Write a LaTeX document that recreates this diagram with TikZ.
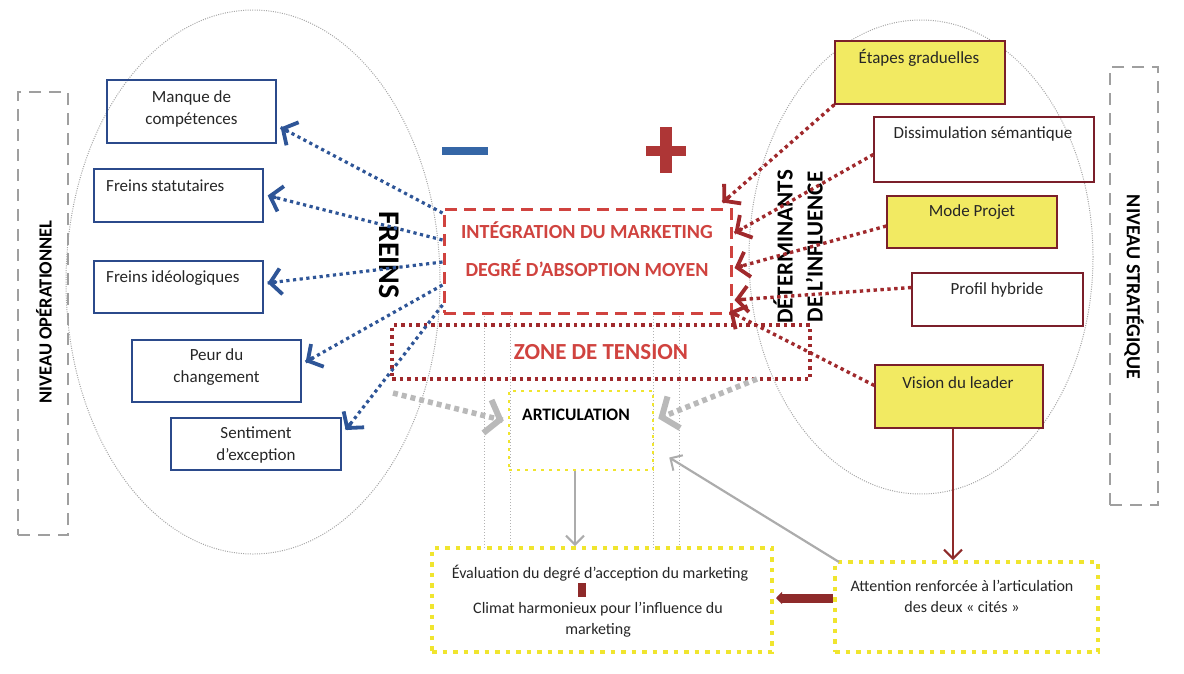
\documentclass[tikz,border=0pt]{standalone}
\usepackage{fontspec}
\setmainfont{Carlito}
\usetikzlibrary{arrows.meta,calc}
\definecolor{navy}{HTML}{2B4A8B}
\definecolor{blued}{HTML}{2E5597}
\definecolor{minusblue}{HTML}{3566A6}
\definecolor{plusred}{HTML}{AE3636}
\definecolor{intred}{HTML}{D0433F}
\definecolor{zonered}{HTML}{A0292C}
\definecolor{maroon}{HTML}{7B1F2A}
\definecolor{yfill}{HTML}{F2EA62}
\definecolor{ydot}{HTML}{F0E52E}
\definecolor{darkred}{HTML}{8E2A2A}
\tikzset{
  txt/.style={font=\fontsize{17}{22}\selectfont, text=black!85, inner sep=0pt, align=center},
  btxt/.style={font=\fontsize{16}{21}\selectfont, text=black!85, inner sep=0pt, align=center},
  bluebox/.style={draw=navy, line width=1.3pt, inner sep=0pt},
  redbox/.style={draw=maroon, line width=1.3pt, inner sep=0pt},
  yellowbox/.style={redbox, fill=yfill},
  bracketbox/.style={draw=gray!75, line width=2.5pt, dash pattern=on 12pt off 8pt, inner sep=0pt},
  blueline/.style={draw=blued, line width=3.2pt, dash pattern=on 3.2pt off 3.5pt},
  bluetip/.style={draw=blued, line width=3.8pt, solid, line cap=round, -{Straight Barb[length=11pt,width=26pt]}},
  redline/.style={draw=zonered, line width=3.4pt, dash pattern=on 3.4pt off 3.5pt},
  redtip/.style={draw=zonered, line width=3.8pt, solid, line cap=round, -{Straight Barb[length=11pt,width=26pt]}},
  grayline/.style={draw=gray!55, line width=5.5pt, dash pattern=on 5pt off 4pt},
  graytip/.style={draw=gray!55, line width=6pt, solid, -{Straight Barb[length=13pt,width=34pt]}},
  thinarrow/.style={line width=1.6pt, -{Straight Barb[length=9pt,width=18pt,line width=2pt]}},
  dotell/.style={draw=gray!70, line width=1pt, dash pattern=on 1pt off 1.3pt},
  thindot/.style={draw=gray!60, line width=0.8pt, dash pattern=on 1pt off 2pt},
  ybox/.style={draw=ydot, line width=4pt, dash pattern=on 4.5pt off 6pt, inner sep=0pt},
}
% dotted connector with a solid tip: #1 line style, #2 tip style, #3 start, #4 end
\newcommand\dotconn[4]{%
  \draw[#1] (#3) -- (#4);
  \draw[#2] ($(#4)!8pt!(#3)$) -- (#4);
}
\begin{document}
\begin{tikzpicture}[x=1pt,y=-1pt]
\useasboundingbox (0,0) rectangle (1184,673);

% ellipses
\draw[dotell] (253,282) ellipse [x radius=187pt, y radius=272pt];
\draw[dotell] (921,257) ellipse [x radius=172pt, y radius=237pt];

% brackets
\node[bracketbox, minimum width=50pt, minimum height=443pt] (lbr) at (43,313.5) {};
\node[bracketbox, minimum width=48pt, minimum height=438pt] (rbr) at (1134,286) {};
\node[font=\fontsize{18.5}{20}\selectfont\bfseries, rotate=90] (nop) at (44,312) {NIVEAU OPÉRATIONNEL};
\node[font=\fontsize{20}{22}\selectfont\bfseries, rotate=-90] (nst) at (1134,287) {NIVEAU STRATÉGIQUE};

% left boxes
\node[bluebox, minimum width=169pt, minimum height=63pt] (m1) at (191.5,111.5) {};
\node[txt] (m1t) at (191.5,109) {Manque de\\compétences};
\node[bluebox, minimum width=169pt, minimum height=53pt] (fs) at (178.5,195.5) {};
\node[txt, anchor=west] (fst) at (106,186) {Freins statutaires};
\node[bluebox, minimum width=169pt, minimum height=52pt] (fi) at (178.5,287) {};
\node[txt, anchor=west] (fit) at (106,278) {Freins idéologiques};
\node[bluebox, minimum width=169pt, minimum height=62pt] (pe) at (216.5,371) {};
\node[txt] (pet) at (216.5,367) {Peur du\\changement};
\node[bluebox, minimum width=170pt, minimum height=52pt] (se) at (256,444) {};
\node[txt] (set) at (256,445) {Sentiment\\d’exception};

% right boxes
\node[yellowbox, minimum width=170pt, minimum height=63pt] (et) at (920,72.5) {};
\node[txt] (ett) at (919,58) {Étapes graduelles};
\node[redbox, minimum width=220pt, minimum height=65pt] (di) at (984,149.5) {};
\node[txt] (dit) at (983,134) {Dissimulation sémantique};
\node[yellowbox, minimum width=170pt, minimum height=52pt] (mp) at (972,222) {};
\node[txt] (mpt) at (972,212) {Mode Projet};
\node[redbox, minimum width=171pt, minimum height=53pt] (pr) at (997.5,299.5) {};
\node[txt] (prt) at (997,290) {Profil hybride};
\node[yellowbox, minimum width=168pt, minimum height=63pt] (vi) at (959,396.5) {};
\node[txt] (vit) at (958,383) {Vision du leader};

% minus and plus
\node[fill=minusblue, minimum width=46pt, minimum height=8pt, inner sep=0pt] (minus) at (465,151) {};
\node[fill=plusred, minimum width=40pt, minimum height=10pt, inner sep=0pt] (plush) at (666,151) {};
\node[fill=plusred, minimum width=12pt, minimum height=46pt, inner sep=0pt] (plusv) at (666,150) {};

% thin gray verticals
\foreach \xx in {484,510,653,679}{
  \draw[thindot] (\xx,313) -- (\xx,548);
}

% central boxes
\node[draw=intred, line width=3pt, dash pattern=on 12pt off 7pt, fill=white, minimum width=287pt, minimum height=104pt, inner sep=0pt] (int) at (587.5,261) {};
\node[font=\fontsize{20}{22}\selectfont\bfseries, text=intred] (intt1) at (587,230) {INTÉGRATION DU MARKETING};
\node[font=\fontsize{20}{22}\selectfont\bfseries, text=intred] (intt2) at (587,268) {DEGRÉ D’ABSOPTION MOYEN};
\node[draw=zonered, line width=3.5pt, dash pattern=on 3.5pt off 4pt, minimum width=418pt, minimum height=54pt, inner sep=0pt] (zone) at (601,352) {};
\node[font=\fontsize{23}{26}\selectfont\bfseries, text=intred] (zonet) at (601,352) {ZONE DE TENSION};
\node[draw=ydot, line width=2.5pt, dash pattern=on 3pt off 5pt, minimum width=144pt, minimum height=79pt, inner sep=0pt] (art) at (581,430.5) {};
\node[font=\fontsize{17.5}{20}\selectfont\bfseries] (artt) at (576,415) {ARTICULATION};

\node[font=\fontsize{30}{32}\selectfont\bfseries, rotate=-90] (frt) at (389,255) {FREINS};
\node[font=\fontsize{23}{30}\selectfont\bfseries, rotate=90, align=center] (dett) at (798,247) {DÉTERMINANTS\\DE L’INFLUENCE};

% bottom boxes
\node[ybox, minimum width=340pt, minimum height=104pt] (bl) at (602,600) {};
\node[btxt] (blt1) at (600,573) {Évaluation du degré d’acception du marketing};
\node[fill=darkred, minimum width=8pt, minimum height=14pt, inner sep=0pt] (mk) at (582,590) {};
\node[btxt] (blt2) at (598,620) {Climat harmonieux pour l’influence du\\marketing};
\node[ybox, minimum width=263pt, minimum height=90pt] (br) at (966.5,607) {};
\node[btxt] (brt) at (962,596) {Attention renforcée à l’articulation\\des deux « cités »};

% connector end points
\coordinate (b1s) at ([yshift=48pt]int.west);
\coordinate (b1e) at ([yshift=-16pt,xshift=4pt]m1.east);
\coordinate (b2s) at ([yshift=21pt]int.west);
\coordinate (b2e) at ([xshift=4pt]fs.east);
\coordinate (b3s) at ([yshift=-1pt]int.west);
\coordinate (b3e) at ([yshift=4pt,xshift=4pt]fi.east);
\coordinate (b4s) at ([yshift=-24pt]int.west);
\coordinate (b4e) at ([yshift=9pt,xshift=4pt]pe.east);
\coordinate (b5s) at ([yshift=-44pt]int.west);
\coordinate (b5e) at ([yshift=14pt,xshift=4pt]se.east);

\coordinate (r1s) at (et.south west);
\coordinate (r1e) at ([xshift=-10pt,yshift=5pt]int.north east);
\coordinate (r2s) at ([yshift=-5pt]di.west);
\coordinate (r2e) at ([xshift=2pt,yshift=28pt]int.east);
\coordinate (r3s) at ([yshift=-4pt]mp.west);
\coordinate (r3e) at ([xshift=2pt,yshift=-7pt]int.east);
\coordinate (r4s) at ([yshift=12pt]pr.west);
\coordinate (r4e) at ([xshift=2pt,yshift=-39pt]int.east);
\coordinate (r5s) at ([yshift=11pt]vi.west);
\coordinate (r5e) at ([xshift=-3pt,yshift=3pt]int.south east);

\coordinate (g1s) at (393,393);
\coordinate (g1e) at ([yshift=10pt,xshift=-4pt]art.west);
\coordinate (g2s) at (757,379);
\coordinate (g2e) at ([yshift=12pt,xshift=4pt]art.east);

% blue arrows
\dotconn{blueline}{bluetip}{b1s}{b1e}
\dotconn{blueline}{bluetip}{b2s}{b2e}
\dotconn{blueline}{bluetip}{b3s}{b3e}
\dotconn{blueline}{bluetip}{b4s}{b4e}
\dotconn{blueline}{bluetip}{b5s}{b5e}

% red arrows
\dotconn{redline}{redtip}{r1s}{r1e}
\dotconn{redline}{redtip}{r2s}{r2e}
\dotconn{redline}{redtip}{r3s}{r3e}
\dotconn{redline}{redtip}{r4s}{r4e}
\dotconn{redline}{redtip}{r5s}{r5e}

% gray dotted arrows
\dotconn{grayline}{graytip}{g1s}{g1e}
\dotconn{grayline}{graytip}{g2s}{g2e}

% gray solid arrows
\draw[thinarrow, draw=gray!65] ([xshift=-6pt]art.south) -- ([xshift=-6pt]art.south |- bl.north);
\draw[thinarrow, draw=gray!65, line width=2.2pt] ([xshift=6pt,yshift=-2pt]br.north west) -- ([xshift=15pt,yshift=-27pt]art.east);

% dark red
\draw[thinarrow, draw=darkred] ([xshift=-6pt]vi.south) -- ([xshift=-6pt]vi.south |- br.north);
\draw[draw=darkred, line width=9pt, -{Triangle[length=6pt,width=12pt]}] ([yshift=9pt]br.west) -- ([yshift=2pt,xshift=2pt]bl.east);
\end{tikzpicture}
\end{document}
